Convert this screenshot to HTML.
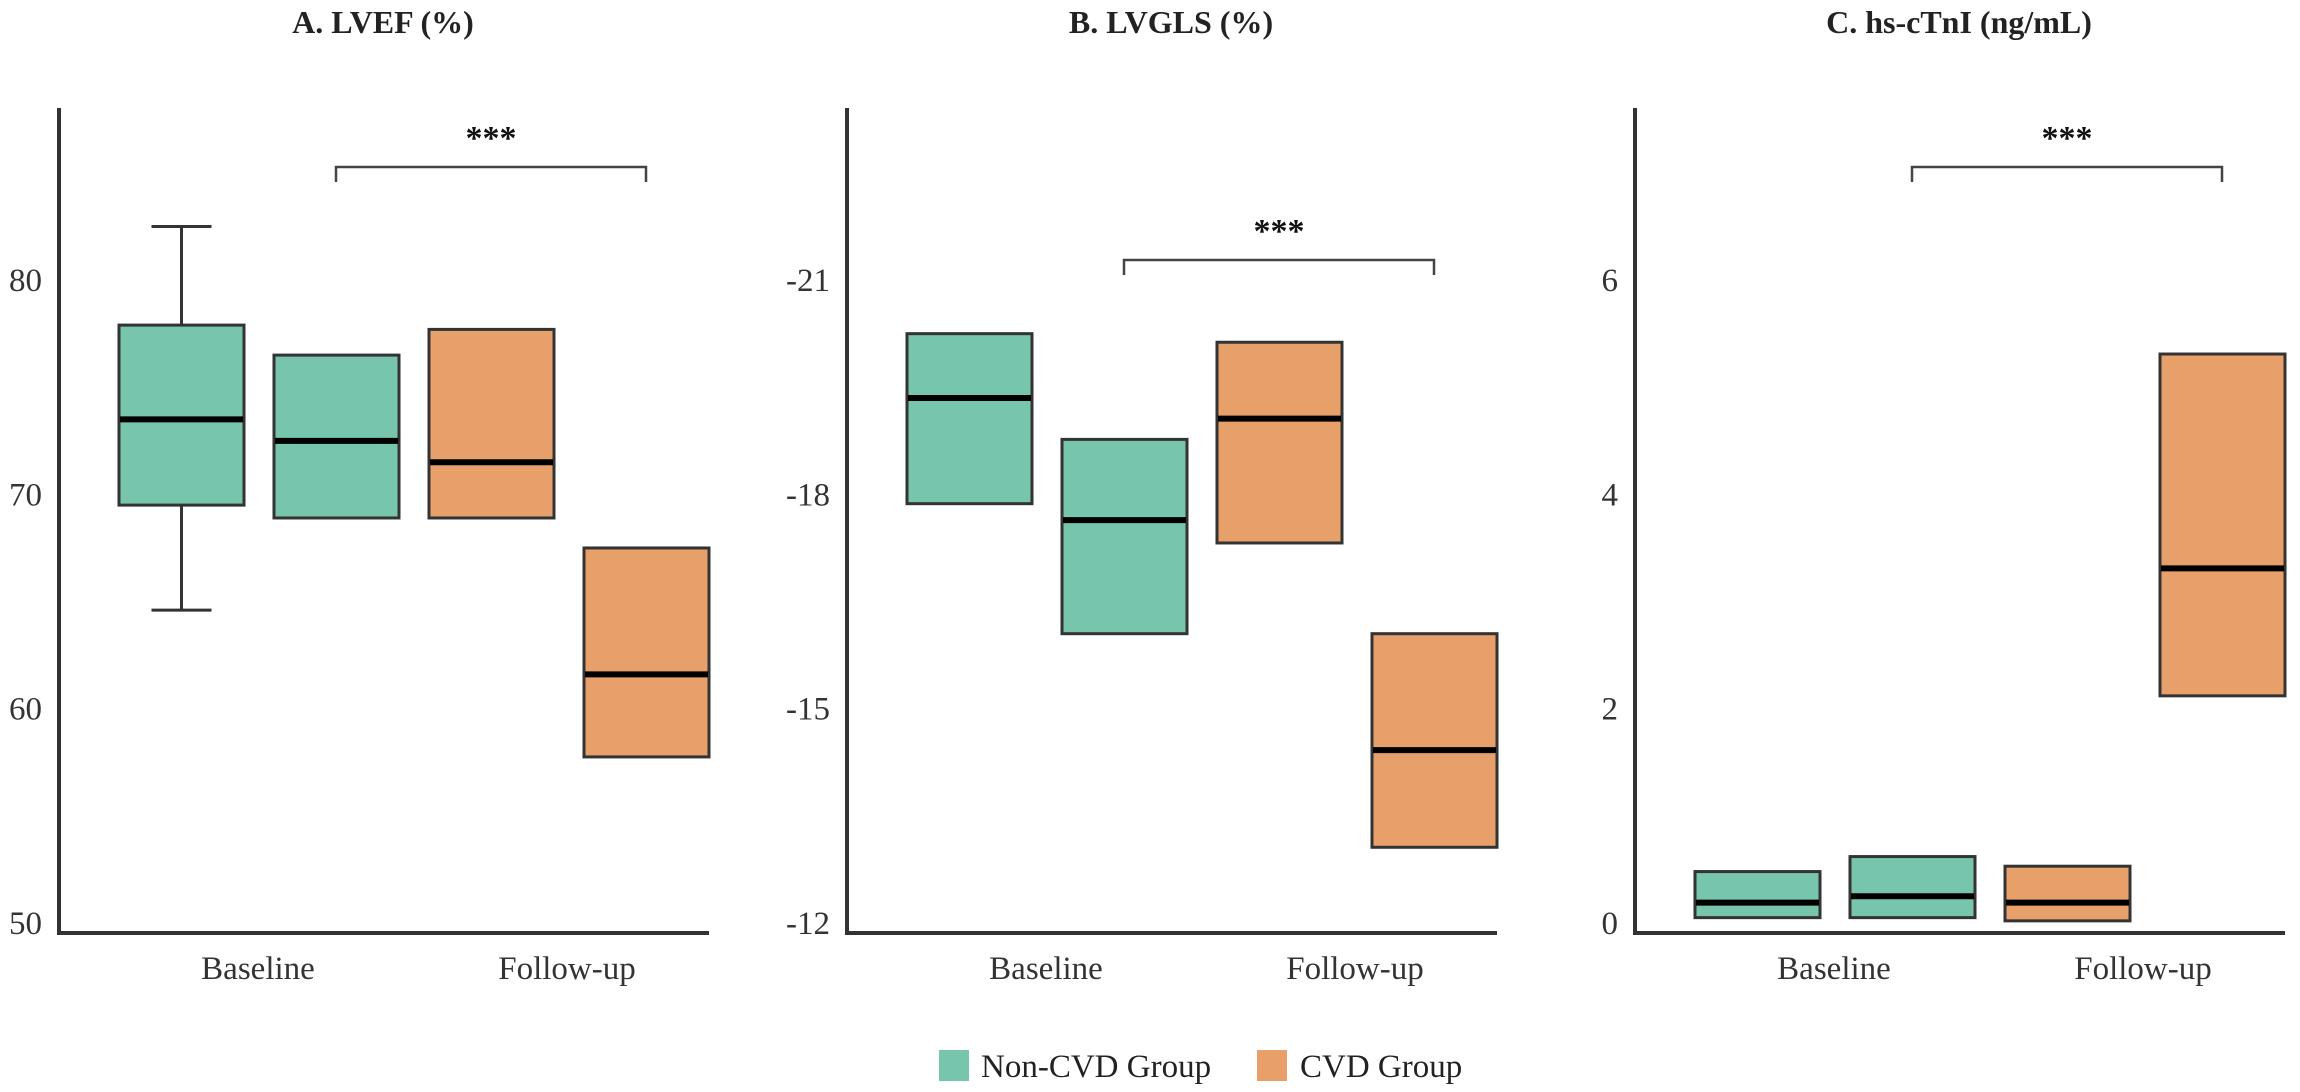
<!DOCTYPE html>
<html><head><meta charset="utf-8"><style>
html,body{margin:0;padding:0;background:#fff;}
svg{display:block;font-family:"Liberation Serif",serif;}
</style></head><body>
<svg id="chart" width="2300" height="1092" viewBox="0 0 2300 1092" xmlns="http://www.w3.org/2000/svg">
<g id="legend">
  <rect x="939" y="1050" width="30" height="31" fill="#78C5AE"/>
  <text x="981" y="1077" font-size="33" fill="#222">Non-CVD Group</text>
  <rect x="1257" y="1050" width="30" height="31" fill="#E8A06A"/>
  <text x="1300" y="1077" font-size="33" fill="#222">CVD Group</text>
</g>
</svg>
<script>
const panelTitles = ["A. LVEF (%)", "B. LVGLS (%)", "C. hs-cTnI (ng/mL)"];
const categories = ["Baseline", "Follow-up"];
const groups = ["Non-CVD", "CVD"];
// Box order per panel: Non-CVD Baseline, Non-CVD Follow-up, CVD Baseline, CVD Follow-up
const lvefQ1 = [69.5, 68.9, 68.9, 57.75];
const lvefMed = [73.5, 72.5, 71.5, 61.6];
const lvefQ3 = [77.9, 76.5, 77.7, 67.5];
const lvefWhiskerLow = [64.6, null, null, null];
const lvefWhiskerHigh = [82.5, null, null, null];
const lvefTicks = [50, 60, 70, 80];
const lvefDomain = [50, 60];
const glsQ1 = [-17.87, -16.05, -17.32, -13.06];
const glsMed = [-19.35, -17.64, -19.06, -14.42];
const glsQ3 = [-20.25, -18.77, -20.13, -16.05];
const glsTicks = [-12, -15, -18, -21];
const glsDomain = [-12, -15];
const tniQ1 = [0.05, 0.05, 0.02, 2.12];
const tniMed = [0.19, 0.25, 0.19, 3.31];
const tniQ3 = [0.48, 0.62, 0.53, 5.31];
const tniTicks = [0, 2, 4, 6];
const tniDomain = [0, 2];
const sigLabels = ["***", "***", "***"];
const sigLevels = [167, 260, 167];

const NS = "http://www.w3.org/2000/svg";
const svg = document.getElementById("chart");
function mk(tag, attrs, parent, text) {
  const e = document.createElementNS(NS, tag);
  for (const k in attrs) e.setAttribute(k, attrs[k]);
  if (text !== undefined) e.textContent = text;
  (parent || svg).appendChild(e);
  return e;
}
const boxColors = ["#78C5AE", "#78C5AE", "#E8A06A", "#E8A06A"];
const panels = [
  {x0: 59, q1: lvefQ1, med: lvefMed, q3: lvefQ3, wl: lvefWhiskerLow, wh: lvefWhiskerHigh, ticks: lvefTicks, dom: lvefDomain},
  {x0: 847, q1: glsQ1, med: glsMed, q3: glsQ3, wl: [null,null,null,null], wh: [null,null,null,null], ticks: glsTicks, dom: glsDomain},
  {x0: 1635, q1: tniQ1, med: tniMed, q3: tniQ3, wl: [null,null,null,null], wh: [null,null,null,null], ticks: tniTicks, dom: tniDomain}
];
const yBottom = 923, yStep = 214.3;
panels.forEach((p, pi) => {
  const g = mk("g", {});
  
  
  const yS = v => yBottom - (v - p.dom[0]) / (p.dom[1] - p.dom[0]) * yStep;
  const xBox = i => p.x0 + 60 + i * 155;
  const t = mk("text", {x: p.x0 + 324, y: 33, "font-size": 32, "font-weight": "bold", "text-anchor": "middle", fill: "#222"}, g, panelTitles[pi]);
  
  
  p.ticks.forEach(tv => {
    const tl = mk("text", {x: p.x0 - 17, y: yS(tv) + 11, "font-size": 33, "text-anchor": "end", fill: "#333"}, g, String(tv));
    
    
  });
  categories.forEach((c, ci) => {
    const cl = mk("text", {x: p.x0 + 199 + ci * 309, y: 979, "font-size": 33, "text-anchor": "middle", fill: "#333"}, g, c);
    
    
  });
  for (let i = 0; i < 4; i++) {
    const xl = xBox(i), w = 125, cx = xl + w / 2;
    if (p.wl[i] !== null) {
      const wk = mk("g", {stroke: "#333", "stroke-width": 3}, g);
      
      
      mk("line", {x1: cx, x2: cx, y1: yS(p.wh[i]), y2: yS(p.q3[i])}, wk);
      mk("line", {x1: cx, x2: cx, y1: yS(p.q1[i]), y2: yS(p.wl[i])}, wk);
      mk("line", {x1: cx - 30, x2: cx + 30, y1: yS(p.wh[i]), y2: yS(p.wh[i])}, wk);
      mk("line", {x1: cx - 30, x2: cx + 30, y1: yS(p.wl[i]), y2: yS(p.wl[i])}, wk);
    }
    const r = mk("rect", {x: xl, y: yS(p.q3[i]), width: w, height: yS(p.q1[i]) - yS(p.q3[i]), fill: boxColors[i], stroke: "#333", "stroke-width": 3}, g);
    
    
    const m = mk("line", {x1: xl + 1, x2: xl + w - 1, y1: yS(p.med[i]), y2: yS(p.med[i]), stroke: "#000", "stroke-width": 6}, g);
    
    
  }
  const ax = mk("path", {d: `M${p.x0} 108 V${yBottom + 10} H${p.x0 + 650}`, fill: "none", stroke: "#333", "stroke-width": 4}, g);
  
  
  const bx1 = xBox(1) + 62, bx2 = xBox(3) + 62, by = sigLevels[pi];
  const br = mk("path", {d: `M${bx1} ${by + 15} V${by} H${bx2} V${by + 15}`, fill: "none", stroke: "#444", "stroke-width": 2.5}, g);
  
  
  const st = mk("text", {x: (bx1 + bx2) / 2, y: by - 18, "font-size": 34, "font-weight": "bold", "text-anchor": "middle", fill: "#111"}, g, sigLabels[pi]);
  
  
});
</script>
</body></html>
